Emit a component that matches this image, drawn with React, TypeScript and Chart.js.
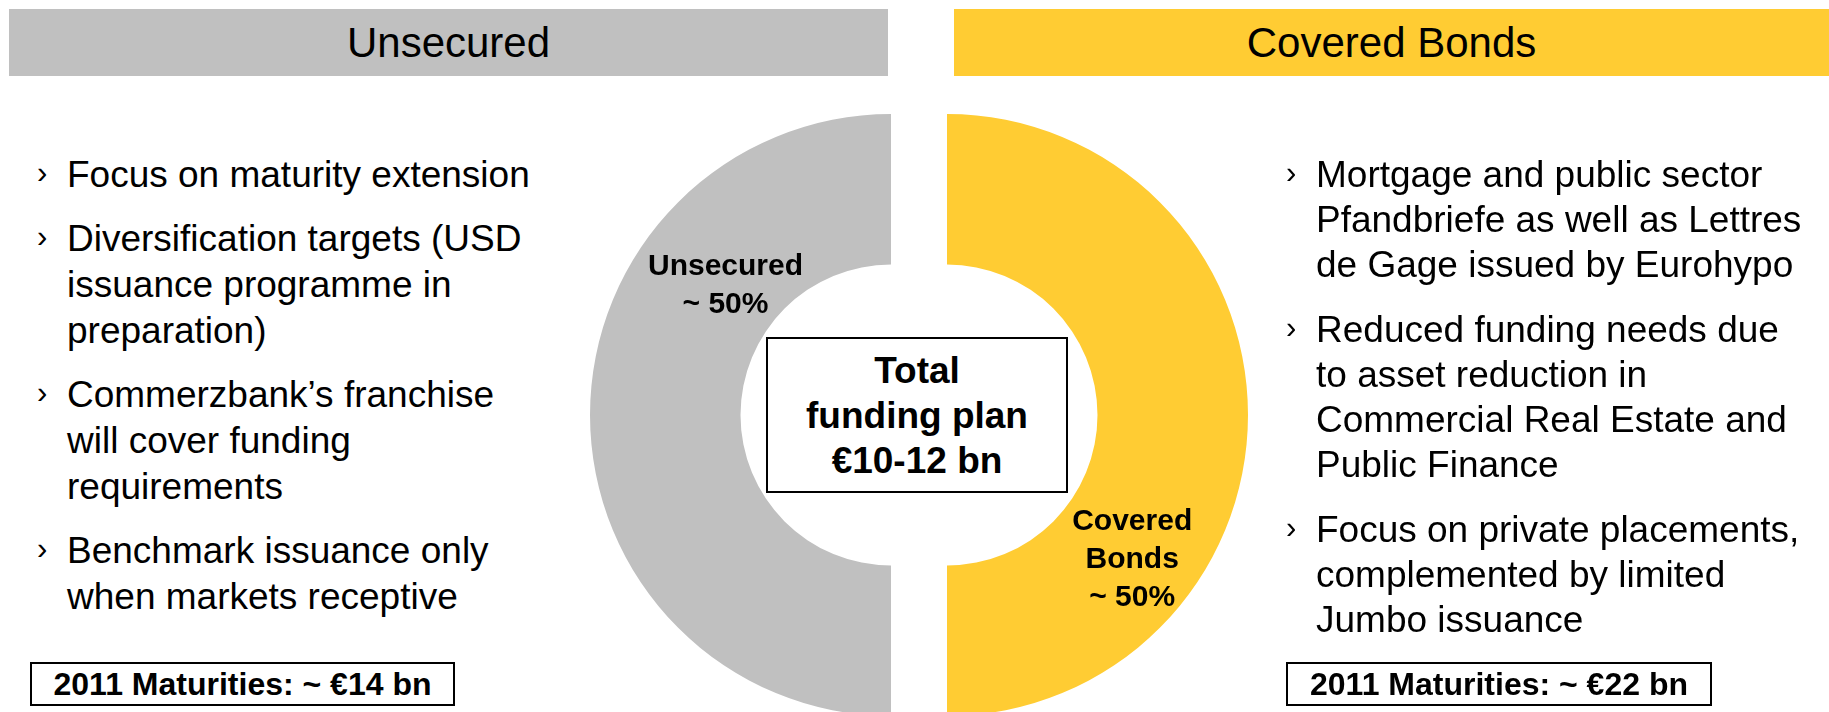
import React, { useEffect, useRef } from "react";
import { Chart, registerables } from "chart.js";

Chart.register(...registerables);

const sliceLabels = ["Unsecured", "Covered Bonds"];
const sliceValues = [50, 50];
const sliceColors = ["#C0C0C0", "#FFCC33"];
const sliceLabelLines = [["Unsecured"], ["Covered", "Bonds"]];
const headerTitles = ["Unsecured", "Covered Bonds"];
const leftBullets = [
  ["Focus on maturity extension"],
  ["Diversification targets (USD", "issuance programme in", "preparation)"],
  ["Commerzbank\u2019s franchise", "will cover funding", "requirements"],
  ["Benchmark issuance only", "when markets receptive"],
];
const rightBullets = [
  ["Mortgage and public sector", "Pfandbriefe as well as Lettres", "de Gage issued by Eurohypo"],
  ["Reduced funding needs due", "to asset reduction in", "Commercial Real Estate and", "Public Finance"],
  ["Focus on private placements,", "complemented by limited", "Jumbo issuance"],
];
const centerLines = ["Total", "funding plan", "\u20ac10-12 bn"];
const maturityTexts = ["2011 Maturities: ~ \u20ac14 bn", "2011 Maturities: ~ \u20ac22 bn"];

const FONT = "'Liberation Sans', Arial, Helvetica, sans-serif";
const HALF_SHIFT = 28; // each half is pulled 28px away from the centre
const CANVAS = 700;
const CENTER_X = 919;
const CENTER_Y = 415;
const LABEL_ANGLE_SHIFT = (38 * Math.PI) / 180;
const LABEL_RADII = [210, 235];

const makeLabelPlugin = (visible: number) => ({
  id: "sliceLabelPlugin",
  afterDatasetsDraw(chart: any) {
    const ctx = chart.ctx;
    const arc = chart.getDatasetMeta(0).data[visible];
    if (!arc) return;
    const p = arc.getProps(["x", "y", "startAngle", "endAngle"], true);
    const mid = (p.startAngle + p.endAngle) / 2;
    const a = mid + LABEL_ANGLE_SHIFT;
    const r = LABEL_RADII[visible];
    const cx = p.x + Math.cos(a) * r;
    const cy = p.y + Math.sin(a) * r;
    const lines = [...sliceLabelLines[visible], `~ ${sliceValues[visible]}%`];
    const lh = 38;
    const top = cy - ((lines.length - 1) * lh) / 2;
    ctx.save();
    ctx.fillStyle = "#000";
    ctx.font = `bold 30px ${FONT}`;
    ctx.textAlign = "center";
    ctx.textBaseline = "middle";
    lines.forEach((t, k) => ctx.fillText(t, cx, top + k * lh));
    ctx.restore();
  },
});

function makeHalfChart(canvas: HTMLCanvasElement, visible: number) {
  return new Chart(canvas, {
    type: "doughnut",
    data: {
      labels: sliceLabels,
      datasets: [
        {
          data: sliceValues,
          backgroundColor: sliceColors.map((c, i) => (i === visible ? c : "rgba(0,0,0,0)")),
          borderWidth: 0,
          hoverOffset: 0,
        } as any,
      ],
    },
    options: {
      responsive: false,
      animation: false,
      rotation: 180,
      cutout: "50%",
      radius: 301,
      layout: { padding: 0 },
      plugins: { legend: { display: false }, tooltip: { enabled: false } },
      events: [],
    } as any,
    plugins: [makeLabelPlugin(visible)],
  });
}

function Bullets({ items, left, top, lineH, gap }: any) {
  return (
    <div style={{ position: "absolute", left, top, fontFamily: FONT, fontSize: 37, color: "#000", whiteSpace: "nowrap" }}>
      {items.map((lines: string[], i: number) => (
        <div key={i} style={{ position: "relative", paddingLeft: 30, marginBottom: gap, lineHeight: `${lineH}px` }}>
          <span style={{ position: "absolute", left: 0, top: -2, fontSize: 31 }}>{"\u203A"}</span>
          {lines.map((l, k) => (
            <div key={k}>{l}</div>
          ))}
        </div>
      ))}
    </div>
  );
}

export default function App() {
  const leftRef = useRef<HTMLCanvasElement>(null);
  const rightRef = useRef<HTMLCanvasElement>(null);

  useEffect(() => {
    const a = makeHalfChart(leftRef.current as HTMLCanvasElement, 0);
    const b = makeHalfChart(rightRef.current as HTMLCanvasElement, 1);
    return () => {
      a.destroy();
      b.destroy();
    };
  }, []);

  const headerStyle = (bg: string, left: number, width: number): React.CSSProperties => ({
    position: "absolute",
    left,
    top: 9,
    width,
    height: 67,
    background: bg,
    display: "flex",
    alignItems: "center",
    justifyContent: "center",
    fontFamily: FONT,
    fontSize: 42,
    color: "#000",
  });

  const boxStyle = (left: number, width: number): React.CSSProperties => ({
    position: "absolute",
    left,
    top: 662,
    width,
    height: 44,
    boxSizing: "border-box",
    border: "2px solid #000",
    display: "flex",
    alignItems: "center",
    justifyContent: "center",
    fontFamily: FONT,
    fontWeight: "bold",
    fontSize: 32,
    color: "#000",
    whiteSpace: "nowrap",
  });

  const canvasTop = CENTER_Y - CANVAS / 2;
  const canvasLeft = CENTER_X - CANVAS / 2;

  return (
    <div style={{ position: "fixed", left: 0, top: 0, width: 1829, height: 712, overflow: "hidden", background: "#fff" }}>
      <div style={headerStyle(sliceColors[0], 9, 879)}>{headerTitles[0]}</div>
      <div style={headerStyle(sliceColors[1], 954, 875)}>{headerTitles[1]}</div>

      <canvas ref={leftRef} width={CANVAS} height={CANVAS} style={{ position: "absolute", left: canvasLeft - HALF_SHIFT, top: canvasTop }} />
      <canvas ref={rightRef} width={CANVAS} height={CANVAS} style={{ position: "absolute", left: canvasLeft + HALF_SHIFT, top: canvasTop }} />

      <div
        style={{
          position: "absolute",
          left: 766,
          top: 337,
          width: 302,
          height: 156,
          boxSizing: "border-box",
          border: "2px solid #000",
          background: "#fff",
          display: "flex",
          flexDirection: "column",
          alignItems: "center",
          justifyContent: "center",
          fontFamily: FONT,
          fontWeight: "bold",
          fontSize: 37,
          lineHeight: "45px",
          color: "#000",
        }}
      >
        {centerLines.map((l, i) => (
          <div key={i}>{l}</div>
        ))}
      </div>

      <Bullets items={leftBullets} left={37} top={152} lineH={46} gap={18} />
      <Bullets items={rightBullets} left={1286} top={152} lineH={45} gap={20} />

      <div style={boxStyle(30, 425)}>{maturityTexts[0]}</div>
      <div style={boxStyle(1286, 426)}>{maturityTexts[1]}</div>
    </div>
  );
}
